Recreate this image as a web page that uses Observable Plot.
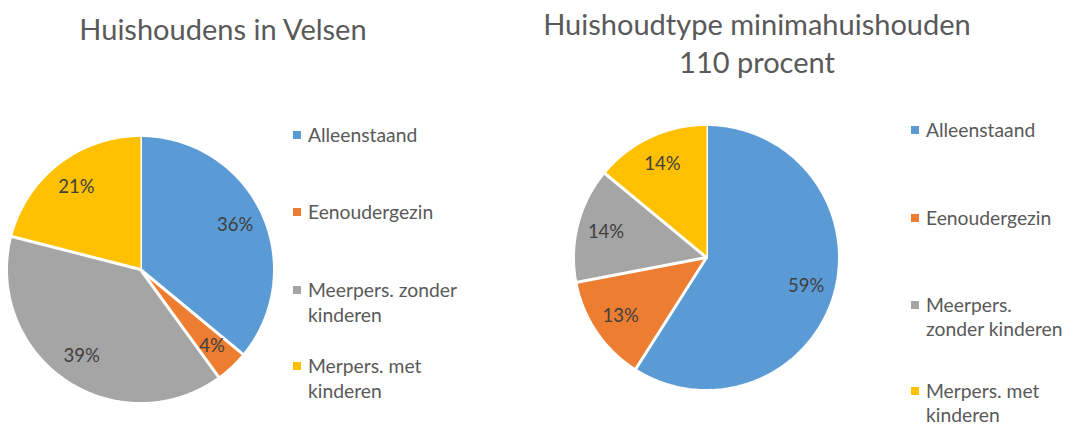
<!DOCTYPE html>
<html><head><meta charset="utf-8">
<script src="https://cdn.jsdelivr.net/npm/d3@7"></script>
<script src="https://cdn.jsdelivr.net/npm/@observablehq/plot@0.6"></script>
<style>
body{margin:0;background:#fff;}
#root{position:relative;width:1083px;height:428px;overflow:hidden;background:#fff}
.pie{position:absolute}
#overlay{position:absolute;left:0;top:0}
</style></head><body><div id="root"></div>
<script>
// ---- data ----
const categories = ["Alleenstaand", "Eenoudergezin", "Meerpers. zonder kinderen", "Merpers. met kinderen"];
const colors = ["#5B9BD5", "#ED7D31", "#A5A5A5", "#FFC000"];
const velsenValues = [36, 4, 39, 21];
const minimaValues = [59, 13, 14, 14];
const titleLeft = ["Huishoudens in Velsen"];
const titleRight = ["Huishoudtype minimahuishouden", "110 procent"];
const legendLinesLeft = [["Alleenstaand"], ["Eenoudergezin"], ["Meerpers. zonder", "kinderen"], ["Merpers. met", "kinderen"]];
const legendLinesRight = [["Alleenstaand"], ["Eenoudergezin"], ["Meerpers.", "zonder kinderen"], ["Merpers. met", "kinderen"]];

const FONT = "Lato, 'Open Sans', sans-serif";
const root = document.getElementById("root");

function pieChart(values, size) {
  const arcs = d3.pie().sort(null)(values);
  const rows = [];
  arcs.forEach((a, i) => {
    rows.push({cat: categories[i], x: 0, y: 0});
    const n = Math.max(2, Math.ceil((a.endAngle - a.startAngle) / (Math.PI / 180)));
    for (let k = 0; k <= n; k++) {
      const t = a.startAngle + (a.endAngle - a.startAngle) * k / n;
      rows.push({cat: categories[i], x: Math.sin(t), y: Math.cos(t)});
    }
  });
  const labels = arcs.map((a, i) => {
    const m = (a.startAngle + a.endAngle) / 2;
    return {x: 0.78 * Math.sin(m), y: 0.78 * Math.cos(m), text: values[i] + "%"};
  });
  return Plot.plot({
    width: size, height: size, margin: 2,
    style: {background: "transparent", overflow: "visible"},
    x: {domain: [-1, 1], axis: null},
    y: {domain: [-1, 1], axis: null},
    color: {domain: categories, range: colors},
    marks: [
      Plot.line(rows, {x: "x", y: "y", z: "cat", fill: "cat", stroke: "white", strokeWidth: 3, strokeLinejoin: "miter"}),
      Plot.text(labels, {x: "x", y: "y", text: "text", fontSize: 18.5, fill: "#404040", fontFamily: FONT})
    ]
  });
}

function place(el, left, top) {
  const wrap = document.createElement("div");
  wrap.className = "pie";
  wrap.style.left = left + "px";
  wrap.style.top = top + "px";
  wrap.appendChild(el);
  root.appendChild(wrap);
}

place(pieChart(velsenValues, 272), 140 - 136, 269 - 136);
place(pieChart(minimaValues, 270), 706 - 135, 257 - 135);

// ---- titles & legends ----
const svg = d3.select(root).append("svg").attr("id", "overlay")
  .attr("width", 1083).attr("height", 428)
  .style("font-family", FONT);

function title(lines, cx, y0, dy) {
  lines.forEach((t, i) => svg.append("text").attr("x", cx).attr("y", y0 + i * dy)
    .attr("text-anchor", "middle").attr("font-size", 29).attr("fill", "#595959").text(t));
}
title(titleLeft, 223, 40, 38);
title(titleRight, 757, 35, 38);

function legend(lines, xText, baselines, lh) {
  lines.forEach((ls, i) => {
    svg.append("rect").attr("x", xText - 15).attr("y", baselines[i] - 11).attr("width", 8).attr("height", 8).attr("fill", colors[i]);
    ls.forEach((t, j) => svg.append("text").attr("x", xText).attr("y", baselines[i] + j * lh)
      .attr("font-size", 19.3).attr("fill", "#595959").text(t));
  });
}
legend(legendLinesLeft, 308, [142, 219, 297, 373], 25);
legend(legendLinesRight, 926, [137, 225, 312, 398], 24);
</script>
</body></html>
